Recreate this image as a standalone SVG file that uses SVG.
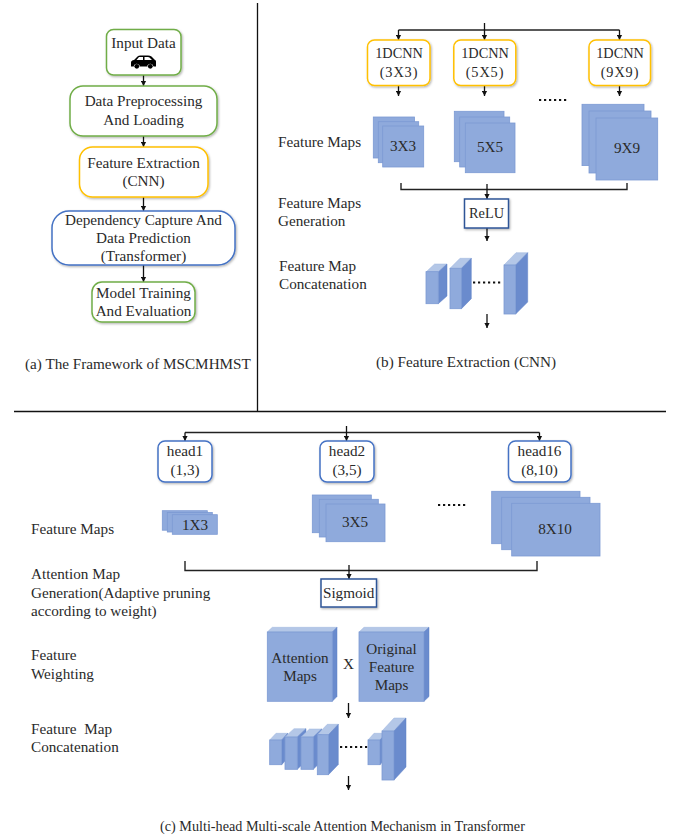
<svg xmlns="http://www.w3.org/2000/svg" width="683" height="840" viewBox="0 0 683 840">
<defs>
<marker id="ah" markerUnits="userSpaceOnUse" markerWidth="6" markerHeight="6" refX="5" refY="3" orient="auto"><path d="M0 0.4L5 3L0 5.6Z" fill="#111"/></marker>
<filter id="sh" x="-10%" y="-10%" width="125%" height="125%"><feDropShadow dx="1" dy="1.2" stdDeviation="0.9" flood-color="#000" flood-opacity="0.3"/></filter>
</defs>
<style>
text{font-family:"Liberation Serif","Times New Roman",serif;font-size:15.2px;fill:#2a2a2a}
.m{text-anchor:middle}
.s{font-size:14.3px}
.w{font-size:14.3px;letter-spacing:.9px}
.c{font-size:14.2px}
.box{fill:#fff;stroke-width:1.5;filter:url(#sh)}
.g{stroke:#70AD47}.y{stroke:#FFC000}.b{stroke:#4472C4}
.sq{fill:#fff;stroke:#2F5597;stroke-width:1.5;filter:url(#sh)}
.fm{fill:#8FAADC;stroke:#7C9AD3;stroke-width:.8}
.top{fill:#B4C7E7;stroke:#9DB5DF;stroke-width:.5}
.side{fill:#6A8BCD;stroke:#5F81C6;stroke-width:.5}
.ln{fill:none;stroke:#222;stroke-width:1.4}
.ar{fill:none;stroke:#111;stroke-width:1.3;marker-end:url(#ah)}
.dot{fill:none;stroke:#111;stroke-width:2;stroke-dasharray:2.2 2.8}
.div{stroke:#111;stroke-width:1.3;fill:none}
</style>

<g id="dividers"><path class="div" d="M257.5 3V411.5M14 411.5H666"/></g>

<g id="connectors">
<path class="ar" d="M143.5 75V86"/><path class="ar" d="M143.5 136V147"/><path class="ar" d="M143.5 197V211"/><path class="ar" d="M143.5 265V282"/>
<path class="ln" d="M398.5 30H619.5"/><path class="ar" d="M398.5 30V40"/><path class="ar" d="M484.5 23V40"/><path class="ar" d="M619.5 30V40"/>
<path class="ar" d="M398.5 85V96"/><path class="ar" d="M484.5 85V96"/><path class="ar" d="M619.5 85V96"/>
<path class="dot" d="M539 100H566.500"/>
<path class="ln" d="M401 183V189.5H627V183"/><path class="ar" d="M487 184V199"/>
<path class="ar" d="M487 228V241"/><path class="dot" d="M473 282.5H500.500"/><path class="ar" d="M487 314V328"/>
<path class="ln" d="M185 432.5H539.5"/><path class="ar" d="M185 432.5V441"/><path class="ar" d="M346.500 426V441"/><path class="ar" d="M539.500 432.500V441"/>
<path class="dot" d="M438 505H465.500"/>
<path class="ln" d="M185 561V570.500H537V561"/><path class="ar" d="M349 565V579"/>
<path class="ar" d="M348.500 703V718"/><path class="dot" d="M340 747H367.500"/><path class="ar" d="M348.500 776V790"/>
</g>

<g id="input-data"><rect class="box g" x="106.500" y="29.500" width="74.500" height="45.500" rx="7"/><text class="m" x="143.500" y="48">Input Data</text>
<path fill="#000" d="M131 66.500V62.500Q131 60.500 134 60L137.500 56.500Q138.500 55.500 140.500 55.500H148Q150 55.500 151.500 56.500L155 60L154 60H155.500L155 60Q156 60 156 61.500V66.500H153.500A3.200 3.200 0 0 0 147.200 66.500H140A3.200 3.200 0 0 0 133.700 66.500Z M139 57L136.500 60H143V57Z M144.500 57V60H152L149.500 57.500Q149 57 148 57Z" fill-rule="evenodd"/><circle cx="136.800" cy="66.300" r="2.400"/><circle cx="150.300" cy="66.300" r="2.400"/></g>
<g id="data-preprocessing"><rect class="box g" x="70" y="86" width="147" height="50" rx="13"/><text class="m" x="143.500" y="106">Data Preprocessing</text><text class="m" x="143.500" y="125">And Loading</text></g>
<g id="feature-extraction"><rect class="box y" x="79.500" y="147" width="128.500" height="50" rx="13"/><text class="m" x="143.500" y="168">Feature Extraction</text><text class="m" x="143.500" y="186">(CNN)</text></g>
<g id="dependency-capture"><rect class="box b" x="52" y="211" width="183" height="54" rx="17"/><text class="m" x="143.500" y="225">Dependency Capture And</text><text class="m" x="143.500" y="243">Data Prediction</text><text class="m" x="143.500" y="261">(Transformer)</text></g>
<g id="model-training"><rect class="box g" x="92" y="282" width="103" height="40" rx="10"/><text class="m" x="143.500" y="298">Model Training</text><text class="m" x="143.500" y="316">And Evaluation</text></g>
<text x="25" y="369">(a) The Framework of MSCMHMST</text>

<g id="cnn-3x3"><rect class="box y" x="367.500" y="40" width="62.500" height="45.500" rx="7"/><text class="m s" x="399" y="58">1DCNN</text><text class="m w" x="399" y="77">(3X3)</text></g>
<g id="cnn-5x5"><rect class="box y" x="453.800" y="40" width="62" height="45.500" rx="7"/><text class="m s" x="485" y="58">1DCNN</text><text class="m w" x="485" y="77">(5X5)</text></g>
<g id="cnn-9x9"><rect class="box y" x="589" y="40" width="61.500" height="45.500" rx="7"/><text class="m s" x="620" y="58">1DCNN</text><text class="m w" x="620" y="77">(9X9)</text></g>

<text x="278" y="147">Feature Maps</text>
<g id="fm-3x3"><rect class="fm" x="373.300" y="117" width="41.200" height="41"/><rect class="fm" x="378.300" y="121.700" width="40.400" height="41"/><rect class="fm" x="382.700" y="126" width="41" height="41"/><text class="m" x="403" y="151">3X3</text></g>
<g id="fm-5x5"><rect class="fm" x="454.300" y="111.300" width="49.700" height="50.400"/><rect class="fm" x="459.700" y="117" width="50" height="50"/><rect class="fm" x="465.300" y="123" width="49.700" height="49.700"/><text class="m" x="490" y="152">5X5</text></g>
<g id="fm-9x9"><rect class="fm" x="582" y="104.300" width="62" height="61.300"/><rect class="fm" x="589" y="111" width="62" height="62"/><rect class="fm" x="596" y="118" width="61.700" height="62"/><text class="m" x="627" y="153">9X9</text></g>

<text x="278" y="208">Feature Maps</text><text x="278" y="226">Generation</text>
<g id="relu"><rect class="sq" x="464.500" y="199" width="44" height="29"/><text class="m s" x="486.500" y="218">ReLU</text></g>
<text x="279" y="271">Feature Map</text><text x="279" y="289">Concatenation</text>

<g id="cuboids-b">
<path class="top" d="M426 272L434.600 264H447L438.300 272Z"/><path class="side" d="M438.300 272L447 264V296L438.300 303.700Z"/><rect class="fm" x="426" y="271.700" width="12.300" height="32"/>
<path class="top" d="M450 268.300L460 258.300H471.300L461.500 268.300Z"/><path class="side" d="M461.500 268.300L471.300 258.300V298.700L461.500 308.700Z"/><rect class="fm" x="450" y="268.300" width="11.500" height="40.400"/>
<path class="top" d="M504 265L516 252.700H527.700L515.700 265Z"/><path class="side" d="M515.700 265L527.700 252.700V302L515.700 314Z"/><rect class="fm" x="504" y="265" width="11.700" height="49"/>
</g>
<text x="376" y="367">(b) Feature Extraction (CNN)</text>

<g id="head1"><rect class="box b" x="158" y="441" width="54" height="41" rx="7"/><text class="m" x="185" y="456">head1</text><text class="m" x="185" y="475">(1,3)</text></g>
<g id="head2"><rect class="box b" x="320" y="441" width="54" height="41" rx="7"/><text class="m" x="347" y="456">head2</text><text class="m" x="347" y="475">(3,5)</text></g>
<g id="head16"><rect class="box b" x="508.500" y="441" width="62.500" height="41" rx="7"/><text class="m" x="539.500" y="456">head16</text><text class="m" x="539.500" y="475">(8,10)</text></g>

<text x="31" y="534">Feature Maps</text>
<g id="fm-1x3"><rect class="fm" x="162.300" y="510.700" width="45" height="19.500"/><rect class="fm" x="167.300" y="512.500" width="45" height="19.500"/><rect class="fm" x="172.300" y="514.700" width="45" height="19.600"/><text class="m" x="195" y="530">1X3</text></g>
<g id="fm-3x5"><rect class="fm" x="312.300" y="495" width="59" height="37.700"/><rect class="fm" x="319.300" y="499.300" width="59" height="37.700"/><rect class="fm" x="326" y="504" width="59" height="37.700"/><text class="m" x="355" y="527">3X5</text></g>
<g id="fm-8x10"><rect class="fm" x="491.700" y="491.300" width="88.300" height="52.400"/><rect class="fm" x="501.700" y="497.300" width="88.300" height="52.400"/><rect class="fm" x="511.700" y="503.300" width="88.300" height="52.700"/><text class="m" x="555" y="534">8X10</text></g>

<text x="31" y="579">Attention Map</text><text x="31" y="598">Generation(Adaptive pruning</text><text x="31" y="616">according to weight)</text>
<g id="sigmoid"><rect class="sq" x="321" y="579" width="55.500" height="28"/><text class="m" x="348.700" y="598">Sigmoid</text></g>

<text x="31" y="660">Feature</text><text x="31" y="679">Weighting</text>
<g id="attention-maps"><path class="top" d="M267.300 632L272.300 627.300H337L332.300 632Z"/><path class="side" d="M332.300 632L337 627.300V696.500L332.300 701.300Z"/><rect class="fm" x="267.300" y="632" width="65" height="69.300"/><text class="m" x="300" y="663">Attention</text><text class="m" x="300" y="681">Maps</text></g>
<text class="m" x="348.500" y="669">X</text>
<g id="original-feature-maps"><path class="top" d="M359 632L364 627.300H429L424 632Z"/><path class="side" d="M424 632L429 627.300V696.500L424 701.300Z"/><rect class="fm" x="359" y="632" width="65" height="69.300"/><text class="m" x="391.500" y="654">Original</text><text class="m" x="391.500" y="672">Feature</text><text class="m" x="391.500" y="690">Maps</text></g>

<text x="31" y="734" xml:space="preserve">Feature  Map</text><text x="31" y="752">Concatenation</text>
<g id="cuboids-c">
<path class="top" d="M269.700 740L276 733.300H287.700L281.700 740Z"/><path class="side" d="M281.700 740L287.700 733.300V758L281.700 764.700Z"/><rect class="fm" x="269.700" y="740" width="12" height="24.700"/>
<path class="top" d="M285 737L294 728.700H306L297.300 737Z"/><path class="side" d="M297.300 737L306 728.700V761L297.300 769.300Z"/><rect class="fm" x="285" y="737" width="12.300" height="32.300"/>
<path class="top" d="M301 737L309.500 729H321.700L313.300 737Z"/><path class="side" d="M313.300 737L321.700 729V761L313.300 769.300Z"/><rect class="fm" x="301" y="737" width="12.300" height="32.300"/>
<path class="top" d="M317.300 734.700L327.300 724.300H338.300L328.500 734.700Z"/><path class="side" d="M328.500 734.700L338.300 724.300V764.500L328.500 774.700Z"/><rect class="fm" x="317.300" y="734.700" width="11.200" height="40"/>
<path class="top" d="M368 740L374 733.300H386L380 740Z"/><path class="side" d="M380 740L386 733.300V758L380 764.700Z"/><rect class="fm" x="368" y="740" width="12" height="24.700"/>
<path class="top" d="M382 731L394 718H406L394 731Z"/><path class="side" d="M394 731L406 718V767L394 780Z"/><rect class="fm" x="382" y="731" width="12" height="49"/>
</g>
<text class="c" x="160" y="831">(c) Multi-head Multi-scale Attention Mechanism in Transformer</text>
</svg>
